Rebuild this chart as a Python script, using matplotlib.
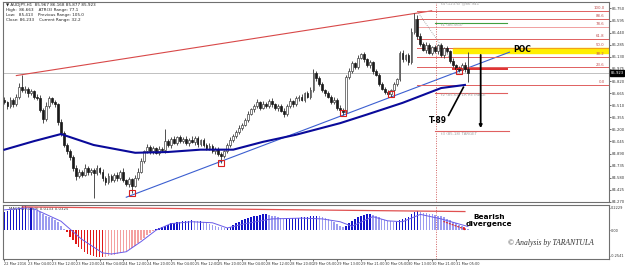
import numpy as np
import matplotlib.pyplot as plt

# ---- price data (AUDJPY H1), one value per bar ----
first_open = 85.58
closes = [
    85.55, 85.50, 85.58, 85.52, 85.62, 85.74, 85.70, 85.72, 85.66, 85.69,
    85.62, 85.60, 85.45, 85.33, 85.50, 85.60, 85.55, 85.52, 85.30, 85.15,
    85.00, 84.92, 84.85, 84.70, 84.60, 84.66, 84.62, 84.70, 84.65, 84.68,
    84.64, 84.70, 84.66, 84.58, 84.52, 84.60, 84.55, 84.62, 84.58, 84.66,
    84.55, 84.50, 84.56, 84.48, 84.58, 84.66, 84.80, 84.92, 84.98, 84.92,
    84.96, 84.90, 84.95, 84.93, 85.05, 85.00, 85.08, 85.03, 85.10, 85.05,
    85.08, 85.02, 85.07, 85.04, 85.09, 85.01, 85.06, 85.00, 84.96, 84.99,
    84.92, 84.95, 84.88, 84.86, 84.92, 85.00, 85.06, 85.12, 85.16, 85.22,
    85.26, 85.32, 85.40, 85.46, 85.50, 85.55, 85.48, 85.53, 85.50, 85.56,
    85.52, 85.47, 85.50, 85.44, 85.40, 85.50, 85.56, 85.52, 85.60, 85.62,
    85.58, 85.66, 85.62, 85.70, 85.92, 85.86, 85.78, 85.70, 85.66, 85.62,
    85.55, 85.58, 85.48, 85.45, 85.42, 85.87, 85.95, 86.05, 86.00, 86.12,
    86.16, 86.10, 86.02, 86.06, 85.95, 85.90, 85.78, 85.72, 85.68, 85.65,
    85.70, 85.78, 85.84, 86.18, 86.10, 86.15, 86.06, 86.45, 86.62, 86.40,
    86.30, 86.22, 86.28, 86.18, 86.25, 86.20, 86.28, 86.15, 86.24, 86.20,
    86.08, 86.02, 85.98, 85.96, 86.03, 85.97, 85.923,
]
# wick lengths beyond the body, in pips (0.01)
upper_wick = [
    3, 2, 4, 2, 3, 5, 16, 3, 2, 3,
    2, 3, 4, 2, 5, 3, 2, 3, 2, 3,
    3, 2, 3, 2, 4, 3, 2, 5, 3, 2,
    3, 4, 2, 3, 2, 4, 3, 2, 3, 2,
    4, 2, 3, 2, 3, 4, 3, 2, 3, 2,
    3, 2, 4, 2, 15, 3, 2, 4, 2, 3,
    2, 3, 2, 4, 2, 3, 2, 3, 2, 3,
    2, 3, 2, 3, 2, 3, 4, 2, 3, 3,
    2, 3, 4, 2, 3, 4, 2, 3, 2, 3,
    4, 2, 3, 2, 3, 2, 4, 2, 3, 2,
    3, 2, 3, 4, 5, 3, 2, 3, 2, 3,
    2, 3, 2, 3, 2, 3, 4, 3, 2, 3,
    2, 3, 2, 3, 2, 3, 2, 3, 2, 3,
    2, 3, 2, 3, 4, 2, 3, 5, 7, 4,
    3, 2, 4, 3, 2, 3, 2, 3, 2, 3,
    2, 3, 2, 3, 2, 3, 22,
]
lower_wick = [
    3, 4, 2, 3, 2, 3, 2, 3, 4, 2,
    3, 2, 3, 5, 2, 3, 2, 3, 4, 3,
    2, 3, 4, 3, 5, 2, 3, 2, 4, 3,
    32, 2, 3, 4, 3, 2, 3, 2, 4, 3,
    2, 3, 4, 9, 2, 3, 2, 3, 2, 4,
    3, 2, 3, 2, 3, 2, 4, 2, 3, 2,
    3, 2, 3, 2, 4, 3, 2, 3, 2, 3,
    2, 3, 2, 9, 3, 2, 3, 2, 3, 2,
    3, 2, 3, 2, 4, 2, 3, 2, 3, 2,
    3, 2, 3, 2, 4, 3, 2, 3, 2, 3,
    2, 3, 2, 3, 2, 4, 3, 2, 3, 2,
    3, 2, 3, 2, 4, 3, 2, 3, 2, 3,
    2, 3, 2, 3, 4, 2, 3, 2, 3, 4,
    3, 2, 3, 2, 3, 2, 3, 2, 3, 4,
    3, 2, 4, 2, 3, 2, 3, 2, 3, 2,
    3, 2, 3, 3, 2, 3, 12,
]

# moving average (sampled along the curve)
ma_bar = [0, 10, 19, 30, 44, 55, 66, 77, 87, 98, 113, 122, 134, 147, 155]
ma_val = [84.94, 85.05, 85.14, 85.00, 84.90, 84.91, 84.94, 84.94, 85.04, 85.13,
          85.28, 85.39, 85.54, 85.73, 85.77]

# MACD histogram, one value per bar
macd_hist = [
    0.16, 0.17, 0.18, 0.18, 0.19, 0.20, 0.21, 0.21, 0.20, 0.20,
    0.19, 0.17, 0.16, 0.14, 0.13, 0.12, 0.11, 0.09, 0.07, 0.04,
    0.01, -0.02, -0.06, -0.09, -0.12, -0.15, -0.17, -0.19, -0.21, -0.22,
    -0.23, -0.24, -0.24, -0.24, -0.235, -0.23, -0.22, -0.215, -0.21, -0.20,
    -0.19, -0.18, -0.17, -0.16, -0.14, -0.115, -0.09, -0.07, -0.045, -0.025,
    -0.01, 0.01, 0.02, 0.03, 0.04, 0.05, 0.06, 0.06, 0.07, 0.07,
    0.08, 0.08, 0.085, 0.09, 0.085, 0.08, 0.08, 0.07, 0.06, 0.055,
    0.05, 0.04, 0.03, 0.025, 0.02, 0.02, 0.03, 0.045, 0.06, 0.075,
    0.09, 0.10, 0.11, 0.12, 0.125, 0.13, 0.135, 0.14, 0.14, 0.135,
    0.13, 0.125, 0.12, 0.11, 0.10, 0.10, 0.10, 0.105, 0.11, 0.11,
    0.115, 0.12, 0.12, 0.125, 0.13, 0.13, 0.125, 0.12, 0.11, 0.10,
    0.085, 0.07, 0.055, 0.04, 0.03, 0.04, 0.06, 0.08, 0.10, 0.115,
    0.125, 0.135, 0.14, 0.14, 0.135, 0.125, 0.115, 0.10, 0.09, 0.085,
    0.08, 0.075, 0.075, 0.09, 0.10, 0.11, 0.12, 0.14, 0.16, 0.17,
    0.165, 0.155, 0.15, 0.145, 0.14, 0.135, 0.13, 0.125, 0.115, 0.10,
    0.09, 0.075, 0.06, 0.045, 0.035, 0.02, 0.01,
]
signal_bar = [0, 9, 19, 26, 33, 36, 41, 46, 51, 56, 63, 70, 75, 81, 90,
              100, 107, 113, 117, 124, 129, 134, 140, 147, 156]
signal_val = [0.18, 0.20, 0.08, -0.08, -0.20, -0.21, -0.19, -0.10, 0.0, 0.058,
              0.075, 0.066, 0.02, 0.058, 0.10, 0.107, 0.10, 0.075, 0.035, 0.12,
              0.083, 0.075, 0.14, 0.10, 0.033]

# annotations
swing_high, swing_low = 86.72, 85.77
fib_ratios = [1.0, 0.886, 0.786, 0.618, 0.5, 0.382, 0.236, 0.0]
fib_labels = ["100.0", "88.6", "78.6", "61.8", "50.0", "38.2", "23.6", "0.0"]
pivot_bars = [43, 73, 114, 130, 153]
pivot_prices = [84.39, 84.77, 85.41, 85.65, 85.95]
upper_trend = ([4, 143.8], [85.89, 86.72])
lower_trend = ([41, 170], [84.33, 86.19])
poc_zone = (86.18, 86.24)
bid = 85.923
time_labels = ["22 Mar 2016", "23 Mar 04:00", "23 Mar 12:00", "23 Mar 20:00",
               "24 Mar 04:00", "24 Mar 12:00", "24 Mar 20:00", "25 Mar 04:00",
               "25 Mar 12:00", "25 Mar 20:00", "28 Mar 04:00", "28 Mar 12:00",
               "28 Mar 20:00", "29 Mar 05:00", "29 Mar 13:00", "29 Mar 21:00",
               "30 Mar 05:00", "30 Mar 13:00", "30 Mar 21:00", "31 Mar 05:00"]
price_ticks = [86.750, 86.595, 86.440, 86.285, 86.130, 85.975, 85.820, 85.665,
               85.510, 85.355, 85.200, 85.045, 84.890, 84.735, 84.580, 84.425, 84.270]

W, H = 625, 269
fig = plt.figure(figsize=(W / 100, H / 100), dpi=100)
fig.patch.set_facecolor("white")


def px_axes(x0, y0, x1, y1):
    return fig.add_axes([x0 / W, 1 - y1 / H, (x1 - x0) / W, (y1 - y0) / H])


ax = px_axes(3, 2, 609, 202)
mx = px_axes(3, 205, 609, 259)
for a in (ax, mx):
    a.set_xlim(-0.5, 203.5)
    for s in a.spines.values():
        s.set_color("#707070")
        s.set_linewidth(0.8)
    a.tick_params(labelsize=2.7, length=1.5, width=0.5, pad=0.8, colors="#333333")
    a.yaxis.tick_right()
mx.tick_params(axis="x", labelsize=2.5)
mx.tick_params(axis="y", labelsize=2.5, length=1, pad=0.5)
ax.set_ylim(84.269, 86.833)
mx.set_ylim(-0.2541, 0.2229)

# ---- candles ----
x = np.arange(len(closes))
c = np.array(closes)
o = np.array([first_open] + closes[:-1])
hi = np.maximum(o, c) + np.array(upper_wick) / 100
lo = np.minimum(o, c) - np.array(lower_wick) / 100
ax.vlines(x, lo, hi, color="#333333", lw=0.6, zorder=3)
bull = c >= o
body = np.maximum(np.abs(c - o), 0.006)
ax.bar(x[bull], body[bull], bottom=o[bull], width=0.62, color="white",
       edgecolor="#444444", linewidth=0.5, zorder=4)
ax.bar(x[~bull], body[~bull], bottom=c[~bull], width=0.62, color="#1a1a1a",
       edgecolor="#1a1a1a", linewidth=0.5, zorder=4)

# bid line, MA and trend lines
ax.axhline(bid, color="#c0c0c0", lw=0.7, zorder=1)
ax.plot(ma_bar, ma_val, color="#0a0a9a", lw=1.5, zorder=5)
ax.plot(*upper_trend, color="#d84848", lw=0.8, zorder=2)
ax.plot(*lower_trend, color="#3c5fd0", lw=0.8, zorder=2)
ax.plot(pivot_bars, pivot_prices, "s", ms=5, mfc="none", mec="#d82020", mew=0.8, zorder=6)

# fibonacci levels and zone
ax.axhspan(*poc_zone, xmin=(151 + 0.5) / 204, xmax=1, color="#ffee00", zorder=1)
rng = swing_high - swing_low
for r, lab in zip(fib_ratios, fib_labels):
    lvl = swing_low + r * rng
    col = "#f0a0a0" if lab == "78.6" else "#e06060"
    ax.plot([139, 203.5], [lvl, lvl], color=col, lw=0.7, zorder=2)
    ax.text(202, lvl + 0.01, lab, fontsize=2.8, color="#c05050", ha="right", va="bottom")
ax.plot([151, 203.5], [poc_zone[1], poc_zone[1]], color="#f0a020", lw=0.8, zorder=2)
ax.plot([151, 169], [85.97, 85.97], color="#e03030", lw=1.4, zorder=2)
ax.plot([145, 169], [86.57, 86.57], color="#40a040", lw=0.8, zorder=2)
ax.plot([145, 169], [85.67, 85.67], color="#e06060", lw=0.8, zorder=2)
ax.plot([145, 170], [85.18, 85.18], color="#e06060", lw=0.8, zorder=2)
ax.text(147, 86.81, "t4 (123.6) @86.941", fontsize=2.8, color="#a0a0a0", va="center")
ax.text(147, 86.54, "t1 (86.563)", fontsize=2.8, color="#a0a0a0", va="center")
ax.text(147, 85.635, "t2 (85.64) 1R RETRACE", fontsize=2.8, color="#a0a0a0", va="center")
ax.text(147, 85.145, "t3 (85.18) TARGET", fontsize=2.8, color="#a0a0a0", va="center")
ax.plot([139.4, 152.9], [86.69, 85.95], color="#909090", lw=0.6, ls=(0, (1, 1.5)), zorder=2)

# vertical day separator
for a in (ax, mx):
    a.axvline(145.1, color="#d06060", lw=0.7, ls=(0, (1, 1.5)), zorder=2)

# drawn annotations
ax.plot([149.5, 154.5], [85.38, 85.74], color="black", lw=1.2, zorder=7)
ax.annotate("", xy=(160.3, 85.18), xytext=(160.3, 86.19),
            arrowprops=dict(arrowstyle="-|>", color="black", lw=1.3,
                            mutation_scale=4), zorder=7)
ax.text(145.8, 85.31, "T-89", fontsize=5.5, fontweight="bold", ha="center", va="center")
ax.text(171.3, 86.22, "POC", fontsize=5.5, fontweight="bold", ha="left", va="center")

# header
hdr = ["\u25bc AUDJPY,H1  85.967 86.168 85.877 85.923",
       "High:  86.663    ATR(3) Range: 77.1",
       "Low:   85.413    Previous Range: 105.0",
       "Close: 86.233    Current Range: 32.2"]
for k, line in enumerate(hdr):
    fig.text(6 / W, 1 - (5 + 4.9 * k) / H, line, fontsize=3.0, color="#222222", va="center")

ax.set_xticks([])
ax.set_yticks(price_ticks)
ax.set_yticklabels(["%.3f" % t for t in price_ticks])
fig.text(610.5 / W, 1 - 73 / H, "%.3f" % bid, fontsize=2.7, color="white", va="center",
         bbox=dict(boxstyle="square,pad=0.15", fc="black", ec="black"))

# ---- MACD panel ----
h = np.array(macd_hist)
prev = np.concatenate([[h[0]], h[:-1]])
cols = []
for v, p in zip(h, prev):
    if v >= 0:
        cols.append("#1414c8" if v >= p else "#9c9cf0")
    else:
        cols.append("#e01818" if v <= p else "#f4a0a0")
mx.bar(x, h, width=0.5, color=cols, zorder=3)
mx.plot(signal_bar, signal_val, color="#6a5ce8", lw=0.7, zorder=4)
mx.plot([6, 155], [0.206, 0.165], color="#e05050", lw=0.9, zorder=5)
mx.annotate("", xy=(156.5, -0.005), xytext=(147, 0.085),
            arrowprops=dict(arrowstyle="-|>", color="#e02020", lw=0.8, ls=":",
                            mutation_scale=4), zorder=6)
mx.text(6 / 625, 0.96, "MACD(12,26,9) 0.0133 0.0325", transform=mx.transAxes,
        fontsize=2.8, color="#333333", va="top")
mx.text(163, 0.085, "Bearish\ndivergence", fontsize=5.3, fontweight="bold",
        ha="center", va="center", linespacing=1.1)
mx.text(169.5, -0.115, "\u00a9 Analysis by TARANTULA", fontsize=5.5, style="italic",
        family="Liberation Serif", color="#333333", va="center")
mx.set_yticks([0.2, 0.0, -0.225])
mx.set_yticklabels(["0.2229", "0.00", "-0.2541"])
mx.set_xticks(np.arange(len(time_labels)) * 8)
mx.set_xticklabels(time_labels, ha="left")

fig.savefig("out.png", dpi=100)
